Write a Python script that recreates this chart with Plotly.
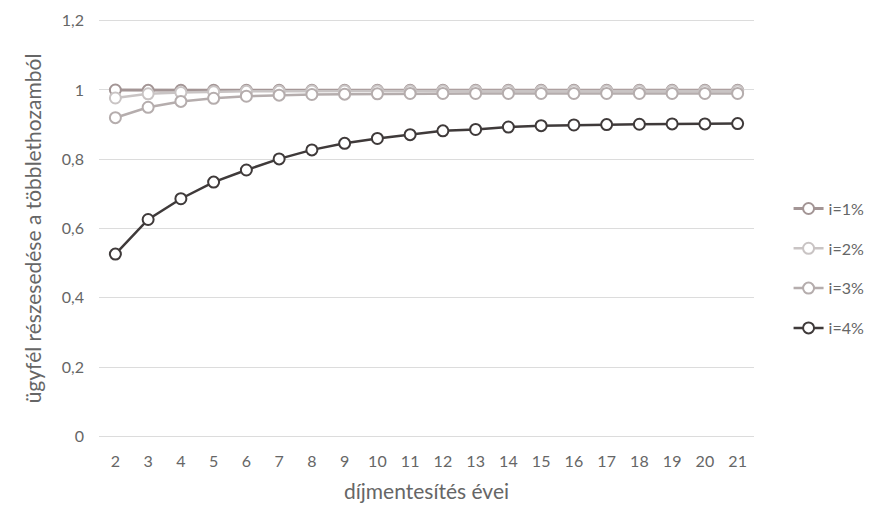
import plotly.graph_objects as go

years = [str(y) for y in range(2, 22)]
series_names = ["i=1%", "i=2%", "i=3%", "i=4%"]
i1 = [1.0, 0.999, 0.999, 0.999, 0.999, 0.999, 0.999, 0.999, 0.999, 0.999,
      0.999, 0.999, 0.999, 0.999, 0.999, 0.999, 0.999, 0.999, 0.999, 0.999]
i2 = [0.977, 0.989, 0.993, 0.995, 0.996, 0.996, 0.997, 0.997, 0.997, 0.997,
      0.997, 0.997, 0.997, 0.997, 0.997, 0.997, 0.997, 0.997, 0.997, 0.997]
i3 = [0.920, 0.950, 0.967, 0.976, 0.982, 0.985, 0.987, 0.988, 0.989, 0.990,
      0.990, 0.990, 0.990, 0.990, 0.990, 0.990, 0.990, 0.990, 0.990, 0.990]
i4 = [0.526, 0.626, 0.686, 0.734, 0.769, 0.801, 0.827, 0.846, 0.860, 0.871,
      0.882, 0.886, 0.893, 0.897, 0.899, 0.900, 0.901, 0.902, 0.902, 0.903]
y_ticks = [0, 0.2, 0.4, 0.6, 0.8, 1, 1.2]

values = [i1, i2, i3, i4]
colors = ["#a39595", "#c9c4c4", "#b5adad", "#3f3a3a"]
widths = [3, 2.5, 2.5, 2.5]

fig = go.Figure()
for name, vals, col, w in zip(series_names, values, colors, widths):
    fig.add_trace(go.Scatter(
        x=years, y=vals, name=name, mode="lines+markers",
        line=dict(color=col, width=w),
        marker=dict(symbol="circle", size=11, color="white",
                    line=dict(color=col, width=2)),
        legendgroup=name,
        cliponaxis=False,
    ))

fig.update_layout(
    width=882, height=508,
    paper_bgcolor="white", plot_bgcolor="white",
    separators=", ",
    font=dict(family="Lato, 'Open Sans', sans-serif", color="#666666", size=16),
    margin=dict(l=91, r=136, t=11, b=78, autoexpand=False),
    showlegend=True,
    legend=dict(
        xref="container", yref="container",
        x=0.885, y=0.487, xanchor="left", yanchor="middle",
        font=dict(size=16, color="#666666"),
        traceorder="grouped", tracegroupgap=16,
        bgcolor="rgba(0,0,0,0)",
    ),
    xaxis=dict(
        type="category", automargin=False, range=[-0.5, 19.5],
        showgrid=False, zeroline=False, showline=False,
        ticks="", tickfont=dict(size=16, color="#666666"),
        ticklabelstandoff=12,
        title=dict(text="díjmentesítés évei", font=dict(size=21, color="#666666"), standoff=15),
    ),
    yaxis=dict(
        range=[-0.005, 1.205], tickvals=y_ticks, automargin=False,
        showgrid=True, gridcolor="#dcdcdc", gridwidth=1,
        zeroline=False, showline=False, ticks="",
        tickfont=dict(size=16, color="#666666"),
        ticklabelstandoff=14,
        title=dict(text="ügyfél részesedése a többlethozamból", font=dict(size=21, color="#666666"), standoff=14),
    ),
)

fig.write_html("out.html")
